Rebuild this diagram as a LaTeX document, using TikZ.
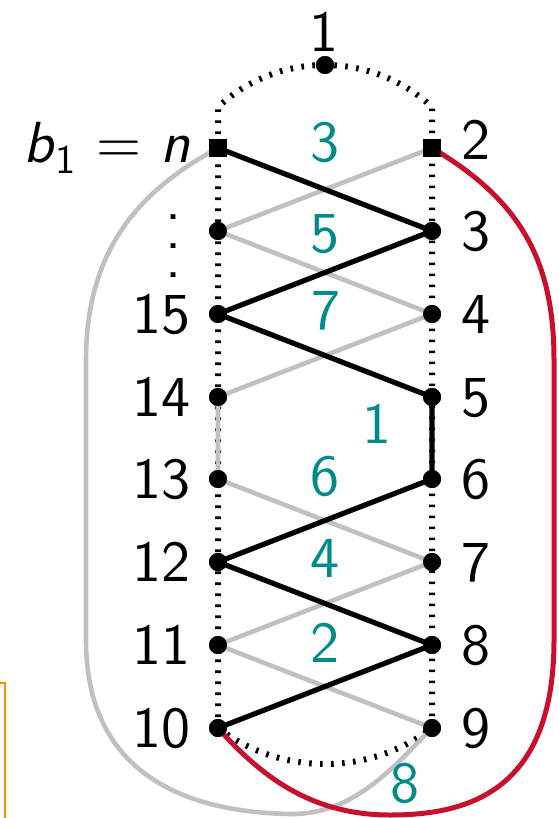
\documentclass[tikz,border=0pt]{standalone}
\usepackage{fontspec}
\newfontfamily\labelfont{lmsans10-regular.otf}[SlantedFont=lmsans10-oblique.otf, ItalicFont=lmsans10-oblique.otf]

\definecolor{numteal}{RGB}{0,139,139}
\definecolor{pathred}{RGB}{200,16,46}
\definecolor{pathgray}{RGB}{192,192,192}
\definecolor{boxorange}{RGB}{255,140,0}

\tikzset{
  vtx/.style={circle, fill=black, inner sep=0pt, minimum size=9pt},
  endvtx/.style={rectangle, fill=black, inner sep=0pt, minimum size=9pt},
  lbl/.style={inner sep=0pt, font=\labelfont\fontsize{29}{35}\selectfont},
  num/.style={lbl, text=numteal},
  black edge/.style={line width=2.6pt},
  gray edge/.style={pathgray, line width=2.3pt},
  red edge/.style={pathred, line width=2.5pt},
  dotline/.style={line width=3pt, dash pattern=on 1.3pt off 4.2pt},
}

\begin{document}
\begin{tikzpicture}[x=0.5pt, y=-0.5pt]
    \useasboundingbox (0,0) rectangle (558,818);

    % Place the vertices
    \node[vtx] (top) at (325,65) {};
    \node[endvtx] (nn) at (218,148) {};
    \node[vtx] (ldots) at (218,231) {};
    \node[vtx] (v15) at (218,314) {};
    \node[vtx] (v14) at (218,397) {};
    \node[vtx] (v13) at (218,479) {};
    \node[vtx] (v12) at (218,562) {};
    \node[vtx] (v11) at (218,645) {};
    \node[vtx] (v10) at (218,728) {};
    \node[endvtx] (v2) at (432,148) {};
    \node[vtx] (v3) at (432,231) {};
    \node[vtx] (v4) at (432,314) {};
    \node[vtx] (v5) at (432,397) {};
    \node[vtx] (v6) at (432,479) {};
    \node[vtx] (v7) at (432,562) {};
    \node[vtx] (v8) at (432,645) {};
    \node[vtx] (v9) at (432,728) {};

    % Draw the dotted outline
    \draw[dotline] (v10.center) -- (218,107)
        .. controls (247,80) and (285,65) .. (top.center)
        .. controls (365,65) and (403,80) .. (432,107) -- (v9.center);
    \draw[dotline] (v10.center) .. controls (281,776) and (369,776) .. (v9.center);

    % Draw the gray zigzag
    \draw[gray edge] (v2.center) -- (ldots.center) -- (v4.center) -- (v14.center)
        -- (v13.center) -- (v7.center) -- (v11.center) -- (v9.center);
    \draw[gray edge] (nn.center) .. controls (150,185) and (86,240) .. (86,360)
        -- (86,640) .. controls (86,770) and (180,812) .. (290,814)
        .. controls (355,815) and (395,765) .. (v9.center);

    % Draw the black zigzag
    \draw[black edge] (nn.center) -- (v3.center) -- (v15.center) -- (v5.center)
        -- (v6.center) -- (v12.center) -- (v8.center) -- (v10.center);

    % Draw the red curve
    \draw[red edge] (v2.center) .. controls (520,200) and (554,260) .. (554,360)
        -- (554,640) .. controls (554,790) and (470,815) .. (390,815)
        .. controls (310,815) and (260,775) .. (v10.center);

    % Put the vertices back on top
    \fill (top) circle (4.5pt);
    \foreach \v in {ldots,v15,v14,v13,v12,v11,v10,v3,v4,v5,v6,v7,v8,v9}
        \fill (\v) circle (4.5pt);
    \fill (nn.south west) rectangle (nn.north east);
    \fill (v2.south west) rectangle (v2.north east);

    % Label the vertices
    \node[lbl, anchor=base] (t1) at (324,52) {1};
    \node[lbl, anchor=base east] (tn) at (191,163) {\textsl{b}\textsubscript{1} = \textsl{n}};
    \node[lbl] (tdots) at (174,246) {\vbox{\baselineskip=14.5pt\lineskiplimit=0pt\hbox{.}\hbox{.}\hbox{.}}};
    \node[lbl, anchor=base east] (t15) at (191,333) {15};
    \node[lbl, anchor=base east] (t14) at (191,416) {14};
    \node[lbl, anchor=base east] (t13) at (191,498) {13};
    \node[lbl, anchor=base east] (t12) at (191,581) {12};
    \node[lbl, anchor=base east] (t11) at (191,664) {11};
    \node[lbl, anchor=base east] (t10) at (191,747) {10};
    \node[lbl, anchor=base west] (t2) at (461,160) {2};
    \node[lbl, anchor=base west] (t3) at (461,250) {3};
    \node[lbl, anchor=base west] (t4) at (461,333) {4};
    \node[lbl, anchor=base west] (t5) at (461,416) {5};
    \node[lbl, anchor=base west] (t6) at (461,498) {6};
    \node[lbl, anchor=base west] (t7) at (461,581) {7};
    \node[lbl, anchor=base west] (t8) at (461,664) {8};
    \node[lbl, anchor=base west] (t9) at (461,747) {9};

    % Number the crossings
    \node[num, anchor=base] (c3) at (325,162) {3};
    \node[num, anchor=base] (c5) at (325,252) {5};
    \node[num, anchor=base] (c7) at (326,329) {7};
    \node[num, anchor=base] (c1) at (377,443) {1};
    \node[num, anchor=base] (c6) at (325,495) {6};
    \node[num, anchor=base] (c4) at (325,577) {4};
    \node[num, anchor=base] (c2) at (325,662) {2};
    \node[num, anchor=base] (c8) at (405,802) {8};

    % Edge of the box on the left
    \draw[boxorange, line width=1.3pt] (-30,683) rectangle (5,860);
\end{tikzpicture}
\end{document}
